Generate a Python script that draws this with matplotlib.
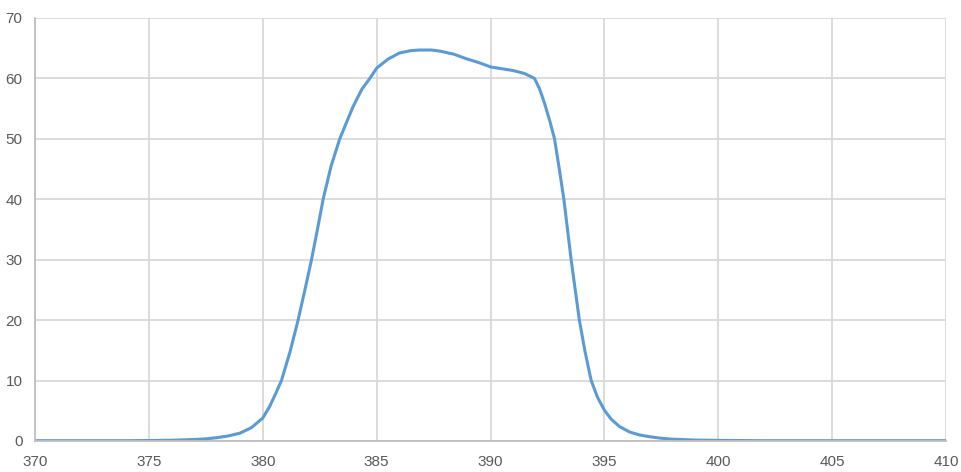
import matplotlib.pyplot as plt
import numpy as np

# wavelength (nm) and transmission (%)
wavelength = [370, 372, 374, 375, 376, 377, 377.5, 378, 378.5, 379, 379.5, 380, 380.3, 380.55,
              380.82, 381.2, 381.55, 381.85, 382.14, 382.4, 382.65, 383.0, 383.38, 383.96,
              384.35, 384.7, 385.0, 385.5, 386.0, 386.5, 386.9, 387.4, 387.8, 388.4, 388.9,
              389.5, 390.0, 390.5, 391.0, 391.5, 391.93, 392.15, 392.37, 392.6, 392.81,
              393.02, 393.22, 393.38, 393.54, 393.72, 393.9, 394.15, 394.42, 394.7, 395.0,
              395.3, 395.66, 396.1, 396.54, 397.0, 397.5, 398, 399, 400, 402, 405, 410]
transmission = [0.05, 0.05, 0.05, 0.08, 0.12, 0.25, 0.35, 0.55, 0.85, 1.3, 2.2, 3.8, 5.7, 7.7,
                10.0, 14.8, 20.0, 25.0, 30.0, 35.0, 40.0, 45.5, 50.0, 55.3,
                58.2, 60.0, 61.7, 63.2, 64.2, 64.6, 64.7, 64.7, 64.5, 64.0, 63.3,
                62.6, 61.9, 61.6, 61.3, 60.8, 60.0, 58.3, 55.9, 53.0, 50.0,
                45.0, 40.0, 35.0, 30.0, 25.0, 20.0, 14.8, 10.0, 7.2, 5.1,
                3.6, 2.4, 1.5, 1.0, 0.7, 0.45, 0.3, 0.15, 0.1, 0.05, 0.05, 0.05]

plt.rcParams['font.family'] = ['Liberation Sans', 'DejaVu Sans']

fig = plt.figure(figsize=(9.62, 4.72), dpi=100)
ax = fig.add_axes([0.0364, 0.0657, 0.947, 0.8962])

ax.plot(wavelength, transmission, color='#5B9BD5', linewidth=2.2,
        solid_capstyle='round', solid_joinstyle='round')

ax.set_xlim(370, 410)
ax.set_ylim(0, 70)
ax.set_xticks(np.arange(370, 411, 5))
ax.set_yticks(np.arange(0, 71, 10))
ax.grid(True, color='#D9D9D9', linewidth=1.3)
ax.set_axisbelow(True)

for side in ['top', 'right']:
    ax.spines[side].set_visible(False)
for side in ['left', 'bottom']:
    ax.spines[side].set_color('#BFBFBF')
    ax.spines[side].set_linewidth(1.3)

ax.tick_params(length=0, labelsize=11, labelcolor='#595959')
ax.tick_params(axis='x', pad=10)
ax.tick_params(axis='y', pad=9)

fig.savefig('out.png', dpi=100)
